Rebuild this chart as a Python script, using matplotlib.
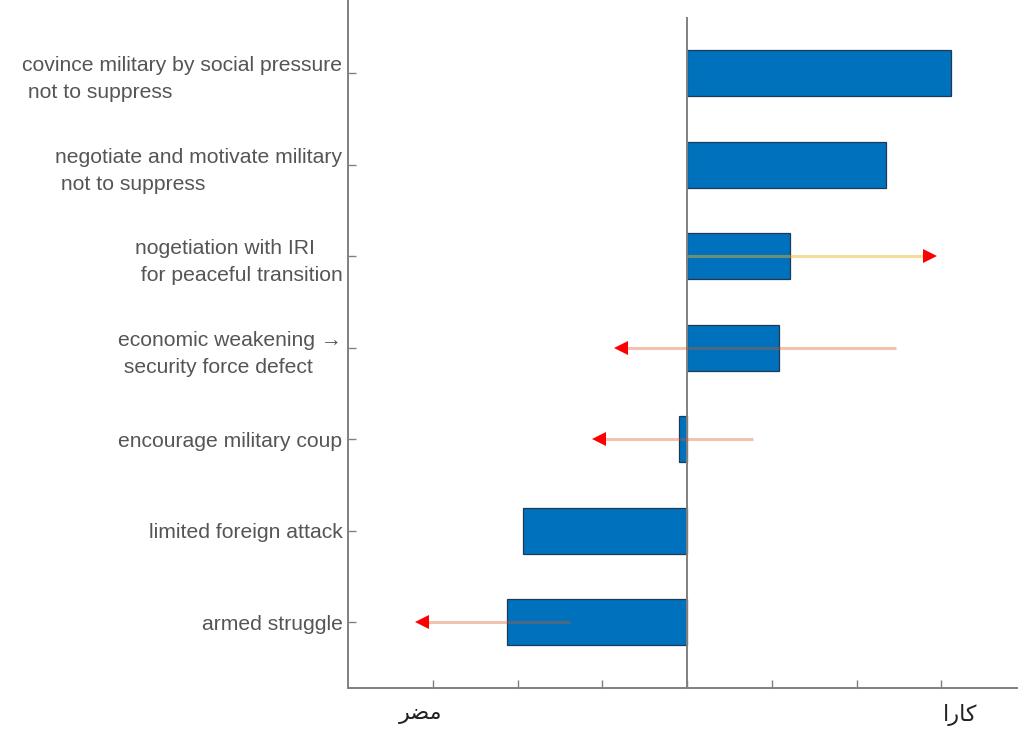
import matplotlib
matplotlib.use("Agg")
import matplotlib.pyplot as plt
import matplotlib.transforms as mtransforms
import numpy as np

# strategies, bottom to top
labels = ["armed struggle",
          "limited foreign attack",
          "encourage military coup",
          "economic weakening \u2192\n security force defect",
          "nogetiation with IRI\n for peaceful transition",
          "negotiate and motivate military\n not to suppress",
          "covince military by social pressure\n not to suppress"]
scores = [-2.12, -1.93, -0.09, 1.09, 1.22, 2.35, 3.12]

# arrows: (row index, start, end, colour)
arrow_rows = [0, 2, 3, 4]
arrow_start = [-1.38, 0.78, 2.47, 0.0]
arrow_end = [-3.13, -1.04, -0.78, 2.87]
arrow_col = ["#D95319", "#D95319", "#D95319", "#EDB120"]

xtick_vals = [-3, -2, -1, 0, 1, 2, 3]
# Persian/Arabic end labels written in presentation forms, visual order
end_labels = ["\uFEAE\uFEC0\uFEE3", "\uFE8D\uFEAD\uFE8E\uFB90"]
end_pos = [-3, 3]
end_shift = [-0.12, 0.19]  # inches, as in the original

plt.rcParams['font.family'] = ['Liberation Sans', 'DejaVu Sans']

fig = plt.figure(figsize=(10.18, 7.30), dpi=100)
ax = fig.add_axes([348/1018, 42/730, 678/1018, 688/730])

y = np.arange(1, len(labels) + 1)
ax.barh(y, scores, height=0.5, color="#0072BD", edgecolor="#1f3a55", linewidth=0.9, zorder=2)

# zero line
ax.plot([0, 0], [0.28, 7.60], color="#808080", lw=1.4, zorder=3)

for r, s, e, c in zip(arrow_rows, arrow_start, arrow_end, arrow_col):
    yy = y[r]
    a = 0.45 if c == "#EDB120" else 0.35
    ax.plot([s, e], [yy, yy], color=c, alpha=a, lw=2.2, zorder=4, solid_capstyle='butt')
    mk = '>' if e > s else '<'
    ax.plot([e], [yy], marker=mk, color="red", markersize=10, markeredgewidth=0, zorder=5)

ax.set_xlim(-4, 4)
ax.set_ylim(0.28, 7.80)

ax.set_yticks(y)
ax.set_yticklabels(labels, fontsize=15.2, color="#555555")
for t in ax.get_yticklabels():
    t.set_multialignment('left')
    t.set_linespacing(1.55)

ax.set_xticks(xtick_vals)
ax.set_xticklabels([])
trans = ax.get_xaxis_transform()
for x0, txt, dx in zip(end_pos, end_labels, end_shift):
    ax.text(x0, 0, txt, fontsize=16, color="#222222", family="DejaVu Sans",
            ha='center', va='top',
            transform=trans + mtransforms.ScaledTranslation(dx, -0.16, fig.dpi_scale_trans))

ax.tick_params(axis='both', direction='in', length=6, width=1.0, color="#808080")
ax.tick_params(axis='y', pad=4)

for side in ['top', 'right']:
    ax.spines[side].set_visible(False)
for side in ['left', 'bottom']:
    ax.spines[side].set_color("#808080")
    ax.spines[side].set_linewidth(1.4)

fig.savefig("out.png", dpi=100)
